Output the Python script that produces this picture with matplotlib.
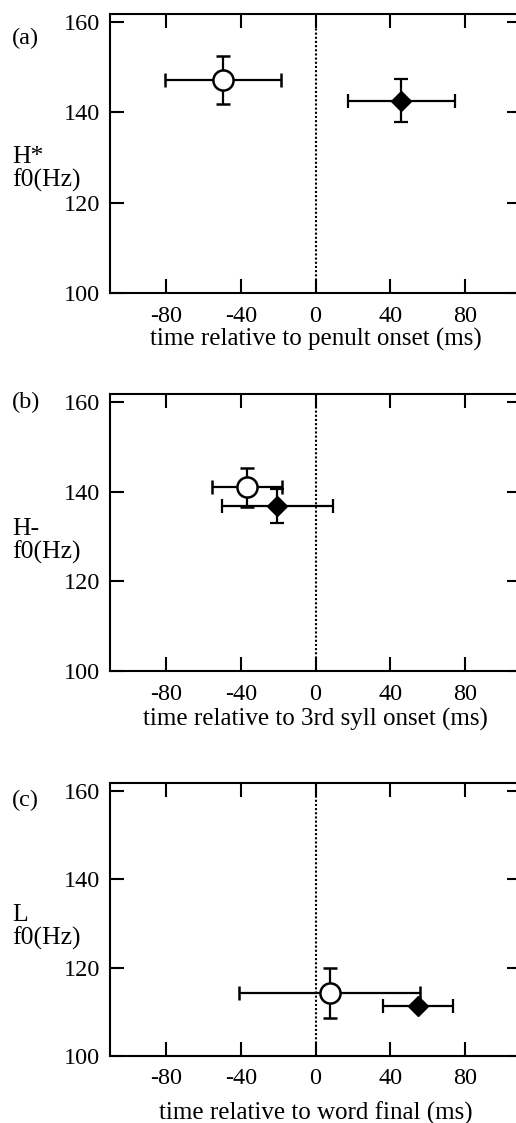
import matplotlib
matplotlib.use('Agg')
import matplotlib.pyplot as plt

# data (ms, Hz)
panels = ['(a)', '(b)', '(c)']
ylabels = ['H*\nf0(Hz)', 'H-\nf0(Hz)', 'L\nf0(Hz)']
xlabels = ['time relative to penult onset (ms)',
           'time relative to 3rd syll onset (ms)',
           'time relative to word final (ms)']

circle_x = [-49.5, -36.5, 7.5]
circle_y = [147.1, 141.0, 114.2]
circle_xerr = [31.0, 18.8, 48.7]
circle_yerr = [5.3, 4.3, 5.7]

diamond_x = [46.0, -20.5, 55.0]
diamond_y = [142.6, 136.8, 111.3]
diamond_xerr = [28.5, 29.7, 18.7]
diamond_yerr = [4.7, 3.8, 0.5]

xticks = [-80, -40, 0, 40, 80]
yticks = [100, 120, 140, 160]

plt.rcParams['font.family'] = ['Liberation Serif', 'DejaVu Serif']
plt.rcParams['font.size'] = 17.5
plt.rcParams['axes.unicode_minus'] = False

W, H = 516, 1123
fig = plt.figure(figsize=(W / 100, H / 100), dpi=100)

# axes boxes in pixels: top, bottom
boxes = [(14, 293), (394, 671), (783, 1056)]
left_px, right_px = 110, 521
label_y = [38, 402, 800]
ylab_y = [169, 541, 927]
xlab_off = [46, 48, 57]   # px below the axis

for i in range(3):
    top, bot = boxes[i]
    ax = fig.add_axes([left_px / W, 1 - bot / H, (right_px - left_px) / W, (bot - top) / H])
    ax.set_xlim(-110, 110)
    ax.set_ylim(100, 161.8)

    ax.axvline(0, color='black', lw=1.5, ls=(0, (1, 1)), zorder=1)

    ax.errorbar(circle_x[i], circle_y[i], xerr=circle_xerr[i], yerr=circle_yerr[i],
                fmt='o', ms=14.5, mfc='white', mec='black', mew=1.8, ecolor='black',
                elinewidth=1.6, capsize=5, capthick=1.6, zorder=3)
    ax.errorbar(diamond_x[i], diamond_y[i], xerr=diamond_xerr[i], yerr=diamond_yerr[i],
                fmt='D', ms=10.5, mfc='black', mec='black', ecolor='black',
                elinewidth=1.6, capsize=5, capthick=1.6, zorder=3)

    ax.set_xticks(xticks)
    ax.set_yticks(yticks)
    ax.tick_params(direction='in', length=10, width=1.5, top=True, right=True, pad=7)
    ax.tick_params(axis='x', pad=9)
    for s in ax.spines.values():
        s.set_linewidth(1.5)
    ax.set_xlabel(xlabels[i], va='center', fontsize=18)
    ax.xaxis.set_label_coords(0.5, -xlab_off[i] / (bot - top))

    fig.text(12 / W, 1 - label_y[i] / H, panels[i], ha='left', va='center')
    fig.text(12 / W, 1 - ylab_y[i] / H, ylabels[i], ha='left', va='center',
             linespacing=1.0, fontsize=18.5)

fig.savefig('out.png', dpi=100)
